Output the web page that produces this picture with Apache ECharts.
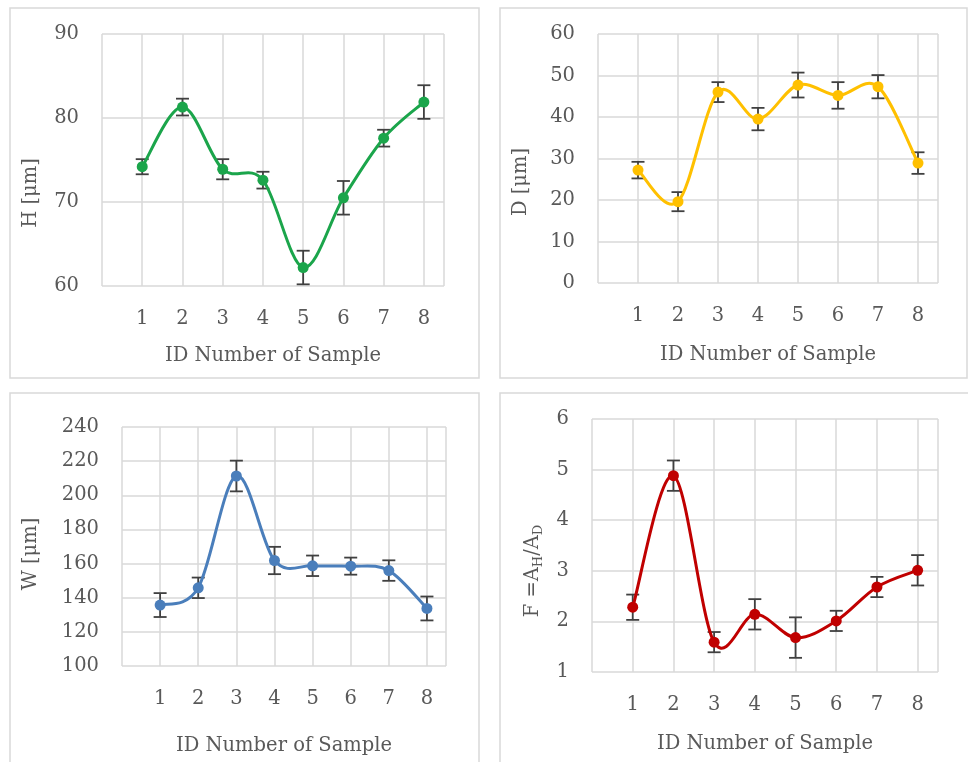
<!DOCTYPE html>
<html>
<head>
<meta charset="utf-8">
<script src="https://cdn.jsdelivr.net/npm/echarts@6/dist/echarts.min.js"></script>
<style>
html,body{margin:0;padding:0;background:#ffffff;}
#chart{width:968px;height:762px;}
</style>
</head>
<body>
<div id="chart"></div>
<script>
// ---- data ----
const samples = [1, 2, 3, 4, 5, 6, 7, 8];

const hValues = [74.2, 81.3, 73.9, 72.6, 62.2, 70.5, 77.6, 81.9];
const hErrors = [0.9, 1.0, 1.2, 1.0, 2.0, 2.0, 1.0, 2.0];
const hTicks = [60, 70, 80, 90];

const dValues = [27.2, 19.6, 46.0, 39.5, 47.7, 45.2, 47.3, 28.9];
const dErrors = [2.0, 2.3, 2.4, 2.7, 3.0, 3.2, 2.8, 2.6];
const dTicks = [0, 10, 20, 30, 40, 50, 60];

const wValues = [135.7, 145.8, 211.3, 161.8, 158.7, 158.5, 155.9, 133.7];
const wErrors = [7, 6, 9, 8, 6, 5, 6, 7];
const wTicks = [100, 120, 140, 160, 180, 200, 220, 240];

const fValues = [2.28, 4.88, 1.59, 2.14, 1.68, 2.01, 2.68, 3.01];
const fErrors = [0.25, 0.3, 0.2, 0.3, 0.4, 0.2, 0.2, 0.3];
const fTicks = [1, 2, 3, 4, 5, 6];

const xTitle = 'ID Number of Sample';
const yTitles = ['H [μm]', 'D [μm]', 'W [μm]', 'F =A{s|H}/A{s|D}'];

// ---- styling ----
const FONT = 'DejaVu Serif';
const FS = 19.5;
const TEXT = '#595959';
const GRIDC = '#d9d9d9';
const colors = ['#1BA54B', '#FFC000', '#4A7EBB', '#C00000'];

const grids = [
  {left: 102, top: 34, width: 342, height: 252},
  {left: 598, top: 34, width: 340, height: 249},
  {left: 122, top: 427, width: 324, height: 239},
  {left: 592, top: 419, width: 346, height: 253}
];
const xNameGaps = [60, 62, 70, 62];
const yNameGaps = [59, 65, 79, 47];
const yNameShift = [66, 47, 15, 51];

const valueSets = [hValues, dValues, wValues, fValues];
const errorSets = [hErrors, dErrors, wErrors, fErrors];
const tickSets = [hTicks, dTicks, wTicks, fTicks];

const xAxes = [], yAxes = [], series = [];
for (let k = 0; k < 4; k++) {
  xAxes.push({
    type: 'value', gridIndex: k, min: 0, max: 8.5, interval: 1,
    axisLine: {show: false}, axisTick: {show: false},
    splitLine: {show: true, lineStyle: {color: GRIDC, width: 1.5}},
    axisLabel: {
      color: TEXT, fontFamily: FONT, fontSize: FS, lineHeight: 20, margin: 23,
      showMaxLabel: true, showMinLabel: true,
      formatter: v => samples.indexOf(v) >= 0 ? String(v) : ''
    },
    name: xTitle, nameLocation: 'middle', nameGap: xNameGaps[k],
    nameTextStyle: {color: TEXT, fontFamily: FONT, fontSize: FS, lineHeight: 20}
  });
  const t = tickSets[k];
  yAxes.push({
    type: 'value', gridIndex: k, min: t[0], max: t[t.length - 1], interval: t[1] - t[0],
    axisLine: {show: false}, axisTick: {show: false},
    splitLine: {show: true, lineStyle: {color: GRIDC, width: 1.5}},
    axisLabel: {color: TEXT, fontFamily: FONT, fontSize: FS, margin: 23},
    name: yTitles[k], nameLocation: 'middle', nameGap: yNameGaps[k],
    nameTextStyle: {
      color: TEXT, fontFamily: FONT, fontSize: FS, lineHeight: 24,
      padding: [0, yNameShift[k], 0, 0],
      rich: {s: {fontSize: 13, lineHeight: 14, verticalAlign: 'bottom', color: TEXT, fontFamily: FONT}}
    }
  });
  const vals = valueSets[k], errs = errorSets[k], col = colors[k];
  // error bars
  series.push({
    type: 'custom', xAxisIndex: k, yAxisIndex: k, z: 1, silent: true,
    data: samples.map((s, i) => [s, vals[i] - errs[i], vals[i] + errs[i]]),
    encode: {x: 0, y: [1, 2]},
    renderItem: function (params, api) {
      const lo = api.coord([api.value(0), api.value(1)]);
      const hi = api.coord([api.value(0), api.value(2)]);
      const hw = 6.5;
      const st = {stroke: '#404040', lineWidth: 1.8};
      return {type: 'group', children: [
        {type: 'line', shape: {x1: hi[0], y1: hi[1], x2: lo[0], y2: lo[1]}, style: st},
        {type: 'line', shape: {x1: hi[0] - hw, y1: hi[1], x2: hi[0] + hw, y2: hi[1]}, style: st},
        {type: 'line', shape: {x1: lo[0] - hw, y1: lo[1], x2: lo[0] + hw, y2: lo[1]}, style: st}
      ]};
    }
  });
  // smoothed line (spreadsheet-style Catmull-Rom Bezier through the data points)
  series.push({
    type: 'custom', xAxisIndex: k, yAxisIndex: k, z: 2, silent: true,
    data: samples.map((s, i) => [s, vals[i]]),
    encode: {x: 0, y: 1},
    renderItem: function (params, api) {
      const i = params.dataIndexInside, n = params.dataInsideLength;
      if (i >= n - 1) return {type: 'group', children: []};
      const P = j => api.coord([api.value(0, j), api.value(1, j)]);
      const p0 = P(Math.max(i - 1, 0)), p1 = P(i), p2 = P(i + 1), p3 = P(Math.min(i + 2, n - 1));
      const f = 1 / 6;
      return {
        type: 'bezierCurve',
        shape: {
          x1: p1[0], y1: p1[1], x2: p2[0], y2: p2[1],
          cpx1: p1[0] + (p2[0] - p0[0]) * f, cpy1: p1[1] + (p2[1] - p0[1]) * f,
          cpx2: p2[0] - (p3[0] - p1[0]) * f, cpy2: p2[1] - (p3[1] - p1[1]) * f
        },
        style: {stroke: col, lineWidth: 3, fill: null, lineCap: 'round'}
      };
    }
  });
  // markers
  series.push({
    type: 'scatter', xAxisIndex: k, yAxisIndex: k, z: 3, silent: true,
    data: samples.map((s, i) => [s, vals[i]]),
    symbol: 'circle', symbolSize: 11,
    itemStyle: {color: col, opacity: 1}
  });
}

const chart = echarts.init(document.getElementById('chart'), null, {renderer: 'canvas'});
chart.setOption({
  backgroundColor: '#ffffff',
  animation: false,
  grid: grids.map(g => Object.assign({outerBoundsMode: 'none', containLabel: false}, g)),
  xAxis: xAxes,
  yAxis: yAxes,
  series: series,
  graphic: [
    {type: 'rect', silent: true, z: -10, shape: {x: 10, y: 8, width: 469, height: 370}, style: {fill: null, stroke: GRIDC, lineWidth: 1.5}},
    {type: 'rect', silent: true, z: -10, shape: {x: 500, y: 8, width: 467, height: 370}, style: {fill: null, stroke: GRIDC, lineWidth: 1.5}},
    {type: 'rect', silent: true, z: -10, shape: {x: 10, y: 393, width: 469, height: 380}, style: {fill: null, stroke: GRIDC, lineWidth: 1.5}},
    {type: 'rect', silent: true, z: -10, shape: {x: 500, y: 393, width: 480, height: 380}, style: {fill: null, stroke: GRIDC, lineWidth: 1.5}}
  ]
});
</script>
</body>
</html>
